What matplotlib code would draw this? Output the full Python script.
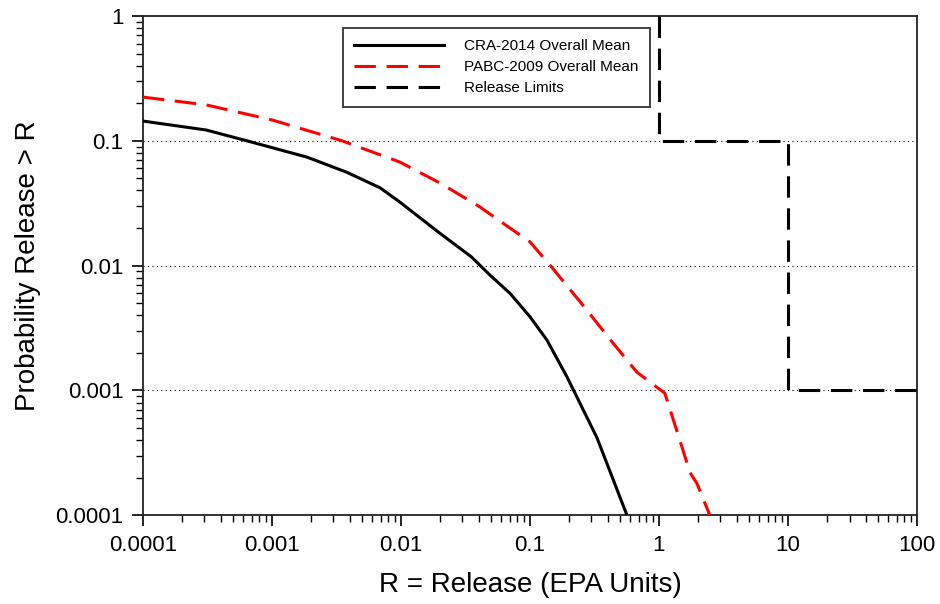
import matplotlib
matplotlib.use("Agg")
import matplotlib.pyplot as plt
from matplotlib.ticker import LogLocator, NullFormatter, FixedLocator, FixedFormatter

plt.rcParams['font.family'] = ['Liberation Sans', 'DejaVu Sans']

# CRA-2014 overall mean CCDF
cra_x = [1e-4, 3.1e-4, 6.4e-4, 0.00187, 0.0038, 0.0069, 0.0098, 0.020,
         0.035, 0.049, 0.070, 0.10, 0.1355, 0.194, 0.33, 0.565]
cra_y = [0.144, 0.122, 0.100, 0.074, 0.056, 0.042, 0.0323, 0.0182,
         0.0118, 0.0084, 0.0060, 0.0039, 0.00253, 0.00128, 0.00042, 1e-4]

# PABC-2009 overall mean CCDF
pabc_x = [1e-4, 3.1e-4, 0.001, 0.0034, 0.0098, 0.020, 0.040, 0.070, 0.10,
          0.143, 0.25, 0.44, 0.675, 1.11, 1.40, 1.74, 1.97, 2.48]
pabc_y = [0.224, 0.194, 0.147, 0.101, 0.0676, 0.046, 0.030, 0.020, 0.0155,
          0.0101, 0.0050, 0.0024, 0.0014, 0.00095, 0.00045, 0.00022, 0.00018, 1e-4]

# EPA release limits (step)
lim_x = [1, 1, 10, 10, 100]
lim_y = [1, 0.1, 0.1, 0.001, 0.001]

x_ticks = [1e-4, 1e-3, 1e-2, 1e-1, 1, 10, 100]
x_labels = ['0.0001', '0.001', '0.01', '0.1', '1', '10', '100']
y_ticks = [1e-4, 1e-3, 1e-2, 1e-1, 1]
y_labels = ['0.0001', '0.001', '0.01', '0.1', '1']
grid_y = [0.1, 0.01, 0.001]

fig = plt.figure(figsize=(9.4, 6.04), dpi=100)
ax = fig.add_axes([0.152, 0.147, 0.8235, 0.8265])

for g in grid_y:
    ax.axhline(g, color='black', linestyle=(0, (1, 3)), linewidth=0.8, zorder=1)

ax.plot(cra_x, cra_y, color='black', linewidth=2.2, label='CRA-2014 Overall Mean', zorder=3)
ax.plot(pabc_x, pabc_y, color='red', linewidth=2.2, linestyle=(0, (7, 3.5)),
        label='PABC-2009 Overall Mean', zorder=3)
ax.plot(lim_x, lim_y, color='black', linewidth=2.2, linestyle=(0, (7, 3.5)),
        label='Release Limits', zorder=3)

ax.set_xscale('log')
ax.set_yscale('log')
ax.set_xlim(1e-4, 100)
ax.set_ylim(1e-4, 1)

ax.xaxis.set_major_locator(FixedLocator(x_ticks))
ax.xaxis.set_major_formatter(FixedFormatter(x_labels))
ax.yaxis.set_major_locator(FixedLocator(y_ticks))
ax.yaxis.set_major_formatter(FixedFormatter(y_labels))
ax.xaxis.set_minor_locator(LogLocator(base=10, subs=range(2, 10), numticks=20))
ax.yaxis.set_minor_locator(LogLocator(base=10, subs=range(2, 10), numticks=20))
ax.xaxis.set_minor_formatter(NullFormatter())
ax.yaxis.set_minor_formatter(NullFormatter())

ax.tick_params(which='major', direction='out', length=8, width=1.2, labelsize=16,
               top=False, right=False, pad=6)
ax.tick_params(which='minor', direction='out', length=5, width=1.0,
               top=False, right=False)
for s in ax.spines.values():
    s.set_linewidth(1.3)
    s.set_color('#222222')

ax.set_xlabel('R = Release (EPA Units)', fontsize=20, labelpad=12)
ax.set_ylabel('Probability Release > R', fontsize=20, labelpad=10)

leg = ax.legend(loc='upper left', bbox_to_anchor=(0.258, 0.976), borderaxespad=0,
                fontsize=11, frameon=True, fancybox=False, edgecolor='black',
                handlelength=5.9, handletextpad=1.3, borderpad=0.75, labelspacing=0.45)
leg.get_frame().set_linewidth(1.3)

fig.savefig('out.png', dpi=100)
